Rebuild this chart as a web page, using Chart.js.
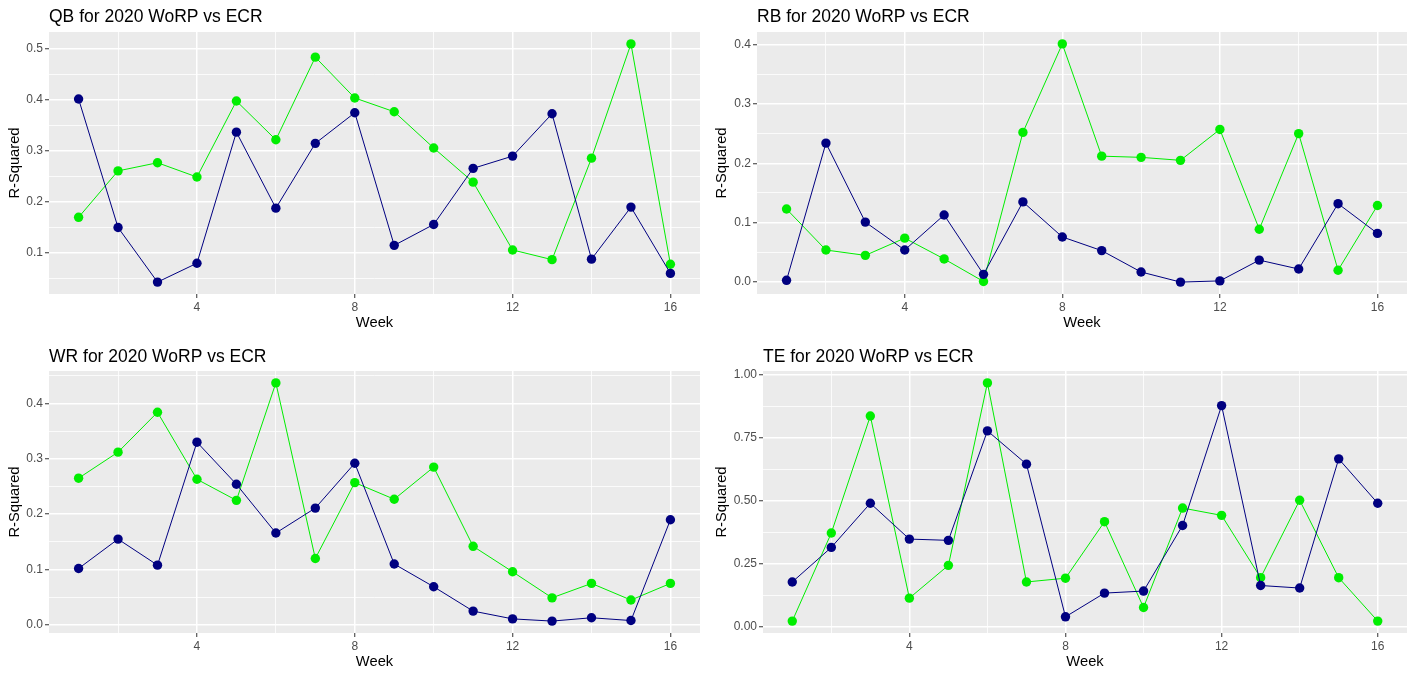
<!DOCTYPE html>
<html>
<head>
<meta charset="utf-8">
<script src="https://cdn.jsdelivr.net/npm/chart.js@4/dist/chart.umd.min.js"></script>
<style>
  html, body { margin: 0; padding: 0; background: #ffffff; }
  body { width: 1415px; height: 679px; position: relative; overflow: hidden; }
  canvas { position: absolute; display: block; }
</style>
</head>
<body>
<canvas id="qb" width="707" height="340" style="left:0px;top:0px;width:707px;height:340px"></canvas>
<canvas id="rb" width="708" height="340" style="left:707px;top:0px;width:708px;height:340px"></canvas>
<canvas id="wr" width="707" height="339" style="left:0px;top:340px;width:707px;height:339px"></canvas>
<canvas id="te" width="708" height="339" style="left:707px;top:340px;width:708px;height:339px"></canvas>
<script>
// ---------------- data ----------------
const weeks = [1,2,3,4,5,6,7,8,9,10,11,12,13,14,15,16];

const qbNavy  = [0.402,0.150,0.043,0.080,0.337,0.188,0.315,0.375,0.115,0.156,0.266,0.290,0.373,0.088,0.190,0.060];
const qbGreen = [0.170,0.261,0.277,0.249,0.398,0.322,0.484,0.404,0.377,0.306,0.239,0.106,0.087,0.286,0.510,0.078];

const rbNavy  = [0.003,0.234,0.101,0.054,0.113,0.013,0.135,0.076,0.053,0.017,0.000,0.002,0.037,0.022,0.132,0.082];
const rbGreen = [0.123,0.054,0.045,0.074,0.039,0.001,0.252,0.401,0.212,0.210,0.205,0.257,0.089,0.250,0.020,0.129];

const wrNavy  = [0.102,0.155,0.108,0.330,0.254,0.166,0.211,0.292,0.110,0.069,0.025,0.011,0.007,0.013,0.008,0.190];
const wrGreen = [0.265,0.312,0.384,0.263,0.225,0.437,0.120,0.257,0.227,0.285,0.142,0.096,0.049,0.075,0.045,0.075];

const teNavy  = [0.179,0.316,0.491,0.349,0.344,0.778,0.646,0.041,0.135,0.143,0.403,0.878,0.165,0.155,0.667,0.491];
const teGreen = [0.024,0.373,0.837,0.115,0.245,0.968,0.179,0.194,0.418,0.078,0.472,0.443,0.196,0.503,0.196,0.024];

// tick labels
const weekTicks      = [4, 8, 12, 16];
const weekMinorTicks = [2, 6, 10, 14];
const qbYTicks   = ['0.1','0.2','0.3','0.4','0.5'];
const rbYTicks   = ['0.0','0.1','0.2','0.3','0.4'];
const wrYTicks   = ['0.0','0.1','0.2','0.3','0.4'];
const teYTicks   = ['0.00','0.25','0.50','0.75','1.00'];

const titles = {
  qb: 'QB for 2020 WoRP vs ECR',
  rb: 'RB for 2020 WoRP vs ECR',
  wr: 'WR for 2020 WoRP vs ECR',
  te: 'TE for 2020 WoRP vs ECR'
};

// ---------------- styling ----------------
const NAVY = '#000080';
const GREEN = '#00EE00';
const PANEL_BG = '#EBEBEB';
const FONT = '"Liberation Sans", Arial, Helvetica, sans-serif';
const TITLE_SIZE = 17.5;

const panelBg = {
  id: 'panelBg',
  beforeDraw(chart) {
    const a = chart.chartArea;
    const ctx = chart.ctx;
    ctx.save();
    ctx.fillStyle = PANEL_BG;
    ctx.fillRect(a.left, a.top, a.right - a.left, a.bottom - a.top);
    ctx.restore();
  }
};

function makeChart(id, navy, green, yLabels, cfg) {
  const all = navy.concat(green);
  const dmin = Math.min(...all), dmax = Math.max(...all);
  const ex = (dmax - dmin) * 0.05;
  const ymin = dmin - ex, ymax = dmax + ex;
  const xmin = weeks[0] - (weeks[weeks.length-1] - weeks[0]) * 0.05;
  const xmax = weeks[weeks.length-1] + (weeks[weeks.length-1] - weeks[0]) * 0.05;

  const yMajor = yLabels.map(Number);
  const step = yMajor[1] - yMajor[0];
  const yMinor = [];
  for (let i = -1; i < yMajor.length; i++) {
    const v = yMajor[0] + step * (i + 0.5);
    if (v > ymin && v < ymax) yMinor.push(+v.toFixed(4));
  }
  const yMajorSet = new Set(yMajor.map(v => v.toFixed(4)));
  const xMajorSet = new Set(weekTicks.map(v => v.toFixed(4)));

  const isMajor = (set, v) => set.has(Number(v).toFixed(4));

  const mk = (values) => weeks.map((w, i) => ({ x: w, y: values[i] }));

  const titlePadTop = 6.5;

  return new Chart(document.getElementById(id), {
    type: 'line',
    data: {
      datasets: [
        {
          label: 'navy',
          data: mk(navy),
          borderColor: NAVY,
          backgroundColor: NAVY,
          borderWidth: 1,
          pointRadius: 4.7,
          pointBorderWidth: 0,
          pointBackgroundColor: NAVY,
          tension: 0,
          fill: false
        },
        {
          label: 'green',
          data: mk(green),
          borderColor: GREEN,
          backgroundColor: GREEN,
          borderWidth: 1,
          pointRadius: 4.7,
          pointBorderWidth: 0,
          pointBackgroundColor: GREEN,
          tension: 0,
          fill: false
        }
      ]
    },
    options: {
      responsive: false,
      animation: false,
      devicePixelRatio: 1,
      layout: { padding: { left: 0, right: cfg.right, top: 0, bottom: 0 } },
      plugins: {
        legend: { display: false },
        tooltip: { enabled: false },
        title: {
          display: true,
          text: titles[id],
          align: 'start',
          fullSize: false,
          color: '#000000',
          font: { family: FONT, size: TITLE_SIZE, weight: 'normal', lineHeight: 1.2 },
          padding: { top: titlePadTop, bottom: cfg.top - titlePadTop - TITLE_SIZE * 1.2 }
        }
      },
      scales: {
        x: {
          type: 'linear',
          min: xmin,
          max: xmax,
          afterBuildTicks(scale) {
            scale.ticks = weekMinorTicks.concat(weekTicks).sort((a,b)=>a-b).map(v => ({ value: v }));
          },
          afterFit(scale) { scale.height = cfg.h - cfg.bottom; },
          border: { display: false },
          grid: {
            color: '#FFFFFF',
            lineWidth: (c) => isMajor(xMajorSet, c.tick.value) ? 1.5 : 0.8,
            drawTicks: true,
            tickLength: 4,
            tickWidth: 1,
            tickColor: (c) => isMajor(xMajorSet, c.tick.value) ? '#333333' : 'rgba(0,0,0,0)'
          },
          ticks: {
            autoSkip: false,
            maxRotation: 0,
            padding: 2,
            color: '#4D4D4D',
            font: { family: FONT, size: 12 },
            callback: (v) => isMajor(xMajorSet, v) ? String(v) : ''
          },
          title: {
            display: true,
            text: 'Week',
            color: '#000000',
            font: { family: FONT, size: 14.7 },
            padding: { top: 0, bottom: 8.2 }
          }
        },
        y: {
          type: 'linear',
          min: ymin,
          max: ymax,
          afterBuildTicks(scale) {
            scale.ticks = yMinor.concat(yMajor).sort((a,b)=>a-b).map(v => ({ value: v }));
          },
          afterFit(scale) { scale.width = cfg.left; },
          border: { display: false },
          grid: {
            color: '#FFFFFF',
            lineWidth: (c) => isMajor(yMajorSet, c.tick.value) ? 1.5 : 0.8,
            drawTicks: true,
            tickLength: 4,
            tickWidth: 1,
            tickColor: (c) => isMajor(yMajorSet, c.tick.value) ? '#333333' : 'rgba(0,0,0,0)'
          },
          ticks: {
            autoSkip: false,
            padding: 2,
            color: '#4D4D4D',
            font: { family: FONT, size: 12 },
            callback: (v) => {
              const idx = yMajor.findIndex(m => Math.abs(m - v) < 1e-6);
              return idx >= 0 ? yLabels[idx] : '';
            }
          },
          title: {
            display: true,
            text: 'R-Squared',
            color: '#000000',
            font: { family: FONT, size: 14.7 },
            padding: { top: 6.3, bottom: 0 }
          }
        }
      }
    },
    plugins: [panelBg]
  });
}

makeChart('qb', qbNavy, qbGreen, qbYTicks, { left: 49, right: 7, top: 32, bottom: 294, h: 340 });
makeChart('rb', rbNavy, rbGreen, rbYTicks, { left: 50, right: 8, top: 32, bottom: 294, h: 340 });
makeChart('wr', wrNavy, wrGreen, wrYTicks, { left: 49, right: 7, top: 31, bottom: 293, h: 339 });
makeChart('te', teNavy, teGreen, teYTicks, { left: 56, right: 8, top: 31, bottom: 293, h: 339 });
</script>
</body>
</html>
